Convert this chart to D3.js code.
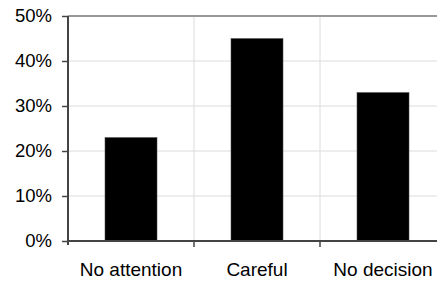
<!DOCTYPE html>
<html>
<head>
<meta charset="utf-8">
<script src="https://cdn.jsdelivr.net/npm/d3@7"></script>
<style>
  body { margin: 0; background: #fff; }
  svg { display: block; }
</style>
</head>
<body>
<div id="chart"></div>
<script>
const categories = ['No attention', 'Careful', 'No decision'];
const values = [23, 45, 33];
const yTicks = [0, 10, 20, 30, 40, 50];

const width = 437;
const height = 281;
const margin = { top: 16, right: -9, bottom: 40, left: 68 };

const svg = d3.select('#chart')
  .append('svg')
  .attr('width', width)
  .attr('height', height)
  .style('font-family', '"Liberation Sans", Arial, sans-serif');

const x = d3.scaleBand()
  .domain(categories)
  .range([margin.left, width - margin.right])
  .paddingInner(0.587)
  .paddingOuter(0.587 / 2);

const y = d3.scaleLinear()
  .domain([0, 50])
  .range([height - margin.bottom, margin.top]);

const x0 = margin.left;
const x1 = width - margin.right;

// category boundaries (left edge of each band's step)
const bounds = categories.slice(1).map(c => x(c) - (x.step() - x.bandwidth()) / 2);

// horizontal gridlines
svg.append('g')
  .selectAll('line')
  .data(yTicks.slice(1, -1))
  .join('line')
  .attr('x1', x0)
  .attr('x2', x1)
  .attr('y1', d => y(d))
  .attr('y2', d => y(d))
  .attr('stroke', '#dcdcdc')
  .attr('stroke-width', 1);

// vertical gridlines between categories
svg.append('g')
  .selectAll('line')
  .data(bounds)
  .join('line')
  .attr('x1', d => d)
  .attr('x2', d => d)
  .attr('y1', y(50))
  .attr('y2', y(0))
  .attr('stroke', '#dcdcdc')
  .attr('stroke-width', 1);

// top border
svg.append('line')
  .attr('x1', x0)
  .attr('x2', x1)
  .attr('y1', y(50))
  .attr('y2', y(50))
  .attr('stroke', '#999')
  .attr('stroke-width', 2);

// bars
svg.append('g')
  .selectAll('rect')
  .data(values)
  .join('rect')
  .attr('x', (d, i) => x(categories[i]))
  .attr('y', d => y(d))
  .attr('width', x.bandwidth())
  .attr('height', d => y(0) - y(d))
  .attr('fill', '#000')
  .attr('stroke', '#555')
  .attr('stroke-width', 0.5);

// y axis
const yAxis = svg.append('g')
  .attr('transform', `translate(${x0},0)`)
  .call(d3.axisLeft(y).tickValues(yTicks).tickFormat(d => d + '%').tickSize(6).tickPadding(10).tickSizeOuter(0));
yAxis.select('.domain').attr('stroke', '#444').attr('stroke-width', 2)
  .attr('d', `M0,${y(50)}V${y(0) + 4}`);
yAxis.selectAll('.tick line').attr('stroke', '#444').attr('stroke-width', 1.5);
yAxis.selectAll('.tick text')
  .attr('fill', '#000')
  .style('font-size', '18.5px');

// x axis
const xAxis = svg.append('g')
  .attr('transform', `translate(0,${y(0)})`);
xAxis.append('line')
  .attr('x1', x0)
  .attr('x2', x1)
  .attr('stroke', '#444')
  .attr('stroke-width', 2);
xAxis.selectAll('.tk')
  .data(bounds)
  .join('line')
  .attr('class', 'tk')
  .attr('x1', d => d)
  .attr('x2', d => d)
  .attr('y1', 0)
  .attr('y2', 6)
  .attr('stroke', '#444')
  .attr('stroke-width', 1.5);
xAxis.selectAll('text')
  .data(categories)
  .join('text')
  .attr('x', d => x(d) + x.bandwidth() / 2)
  .attr('y', 35)
  .attr('text-anchor', 'middle')
  .attr('fill', '#000')
  .style('font-size', '19px')
  .text(d => d);
</script>
</body>
</html>
